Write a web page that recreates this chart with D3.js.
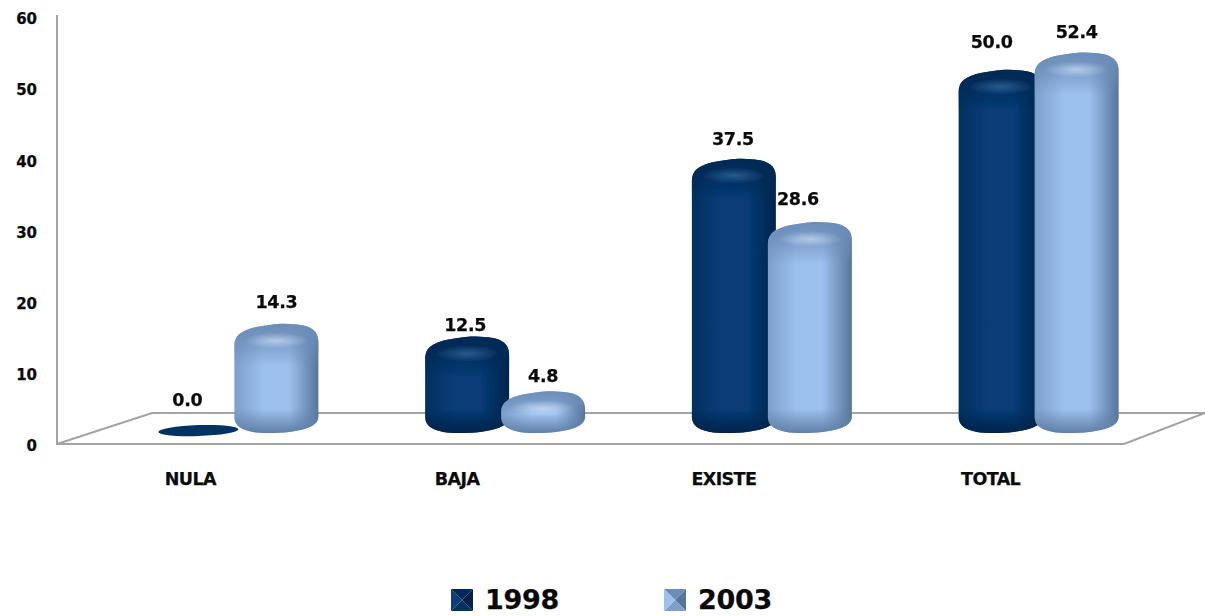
<!DOCTYPE html>
<html>
<head>
<meta charset="utf-8">
<script src="https://cdn.jsdelivr.net/npm/d3@7"></script>
<style>
  html, body { margin: 0; background: #fff; }
  text { font-family: "DejaVu Sans", sans-serif; font-weight: bold; fill: #0a0a0a; stroke: #0a0a0a; stroke-width: 0.25px; }
</style>
</head>
<body>
<div id="graphic"></div>
<script>
var categories = ["NULA", "BAJA", "EXISTE", "TOTAL"];
var seriesNames = ["1998", "2003"];
var values1998 = [0.0, 12.5, 37.5, 50.0];
var values2003 = [14.3, 4.8, 28.6, 52.4];
var yTicks = [0, 10, 20, 30, 40, 50, 60];

var width = 1205;
var height = 616;
var barBottom = 433;
var barWidth = 84;
var topOffset = 20.5;

// hand placed labels in the original, offset from the top middle of each bar
var labelNudge = {
  "1998": [[-13, -26], [-2, -12], [-1, -20], [-9, -28]],
  "2003": [[0, -22], [0, -16], [-12, -23], [0, -21]]
};

var colors = {
  "1998": { edgeL: "#06305f", mid: "#073c78", edgeR: "#02244a", cap: "#032a55", glow: "#3f78b0", base: "#02234a" },
  "2003": { edgeL: "#7d9fcb", mid: "#9cc1ef", edgeR: "#567599", cap: "#6c8db8", glow: "#dcebfb", base: "#5f7fa6" }
};

var seriesValues = { "1998": values1998, "2003": values2003 };

var svg = d3.select("#graphic").append("svg")
  .attr("width", width)
  .attr("height", height)
  .style("display", "block");

var xScale = d3.scaleBand().domain(categories).range([105, 1172]);
var xInner = d3.scaleBand().domain(seriesNames).range([-80, 80]);
var yScale = d3.scaleLinear().domain([0, 60]).range([446, 19]);

var defs = svg.append("defs");
seriesNames.forEach(function(name) {
  var c = colors[name];
  var body = defs.append("linearGradient").attr("id", "body" + name);
  body.append("stop").attr("offset", "0%").attr("stop-color", c.edgeL);
  body.append("stop").attr("offset", "35%").attr("stop-color", c.mid);
  body.append("stop").attr("offset", "65%").attr("stop-color", c.mid);
  body.append("stop").attr("offset", "100%").attr("stop-color", c.edgeR);

  var cap = defs.append("linearGradient").attr("id", "cap" + name).attr("x2", 0).attr("y2", 1);
  cap.append("stop").attr("offset", "0%").attr("stop-color", c.cap);
  cap.append("stop").attr("offset", "35%").attr("stop-color", c.cap).attr("stop-opacity", 0.8);
  cap.append("stop").attr("offset", "100%").attr("stop-color", c.cap).attr("stop-opacity", 0);

  var base = defs.append("linearGradient").attr("id", "base" + name).attr("x2", 0).attr("y2", 1);
  base.append("stop").attr("offset", "0%").attr("stop-color", c.base).attr("stop-opacity", 0);
  base.append("stop").attr("offset", "100%").attr("stop-color", c.base);

  var glow = defs.append("radialGradient").attr("id", "glow" + name);
  glow.append("stop").attr("offset", "0%").attr("stop-color", c.glow).attr("stop-opacity", 0.6);
  glow.append("stop").attr("offset", "100%").attr("stop-color", c.glow).attr("stop-opacity", 0);
});

defs.append("filter").attr("id", "soft")
  .append("feGaussianBlur").attr("stdDeviation", 0.5);

// floor and wall lines
var floor = [[57, 15], [57, 444], [1124, 444], [1205, 413], [152, 413], [57, 444]];
svg.append("path")
  .attr("d", d3.line()(floor))
  .attr("fill", "none")
  .attr("stroke", "#a3a3a3")
  .attr("stroke-width", 2);

var yAxis = d3.axisLeft(yScale).tickValues(yTicks).tickSize(0).tickPadding(20).tickFormat(d3.format("d"));
var yG = svg.append("g").attr("transform", "translate(57,0)").call(yAxis);
yG.select(".domain").remove();
yG.selectAll("text").attr("font-size", 15);

svg.append("g").selectAll("text").data(categories).join("text")
  .attr("x", function(d) { return xScale(d) + xScale.bandwidth() / 2 - 48; })
  .attr("y", 485)
  .attr("text-anchor", "middle")
  .attr("font-size", 17.5)
  .attr("letter-spacing", -0.6)
  .text(function(d) { return d; });

function topEdge(x0, w, t, b) {
  var x1 = x0 + w;
  var sL = Math.min(22, (b - t) / 2);
  var sR = Math.min(19, (b - t) / 2 - 2);
  return "M" + x0 + "," + (t + sL) +
    "C" + x0 + "," + (t + 8) + " " + (x0 + 0.15 * w) + "," + (t + 3) + " " + (x0 + 0.55 * w) + "," + t +
    "C" + (x0 + 0.85 * w) + "," + t + " " + x1 + "," + (t + 3) + " " + x1 + "," + (t + sR);
}

function bottomEdge(x0, w, b) {
  var x1 = x0 + w;
  return "C" + x1 + "," + (b - 6) + " " + (x0 + 0.78 * w) + "," + b + " " + (x0 + 0.4 * w) + "," + b +
    "C" + (x0 + 0.12 * w) + "," + b + " " + x0 + "," + (b - 6) + " " + x0 + "," + (b - 16);
}

function barPath(x0, w, t, b) {
  return topEdge(x0, w, t, b) + "L" + (x0 + w) + "," + (b - 16) + bottomEdge(x0, w, b) + "Z";
}

function capPath(x0, w, t, b) {
  var h = Math.min(42, (b - t) * 0.55);
  return topEdge(x0, w, t, b) + "L" + (x0 + w) + "," + (t + h) + "L" + x0 + "," + (t + h) + "Z";
}

function basePath(x0, w, t, b) {
  var h = Math.min(24, (b - t) * 0.45);
  return "M" + x0 + "," + (b - h) + "L" + (x0 + w) + "," + (b - h) + "L" + (x0 + w) + "," + (b - 16) +
    bottomEdge(x0, w, b) + "Z";
}

function barLeft(name, cat) {
  return xScale(cat) + xScale.bandwidth() / 2 + xInner(name) + (name === "1998" ? 0 : -4);
}

seriesNames.forEach(function(name) {
  var g = svg.append("g").attr("filter", "url(#soft)");
  categories.forEach(function(cat, i) {
    var v = seriesValues[name][i];
    var x0 = barLeft(name, cat);
    var t = yScale(v) - topOffset;
    if (v === 0) {
      g.append("ellipse")
        .attr("cx", x0 + barWidth / 2 - 2)
        .attr("cy", t + 5)
        .attr("rx", barWidth / 2 - 2)
        .attr("ry", 5.5)
        .attr("transform", "rotate(-2 " + (x0 + barWidth / 2) + " " + (t + 5) + ")")
        .attr("fill", "#033162");
      return;
    }
    g.append("path").attr("d", barPath(x0, barWidth, t, barBottom)).attr("fill", "url(#body" + name + ")");
    g.append("path").attr("d", basePath(x0, barWidth, t, barBottom)).attr("fill", "url(#base" + name + ")");
    g.append("path").attr("d", capPath(x0, barWidth, t, barBottom)).attr("fill", "url(#cap" + name + ")");
    g.append("ellipse")
      .attr("cx", x0 + barWidth * 0.5)
      .attr("cy", t + 17)
      .attr("rx", 32)
      .attr("ry", 8)
      .attr("fill", "url(#glow" + name + ")");
  });
});

// data labels go on top of every bar
seriesNames.forEach(function(name) {
  categories.forEach(function(cat, i) {
    var v = seriesValues[name][i];
    var nudge = labelNudge[name][i];
    svg.append("text")
      .attr("x", barLeft(name, cat) + barWidth / 2 + nudge[0])
      .attr("y", yScale(v) - topOffset + nudge[1])
      .attr("dy", "0.36em")
      .attr("text-anchor", "middle")
      .attr("font-size", 17.5)
      .attr("letter-spacing", -0.3)
      .text(d3.format(".1f")(v));
  });
});

// legend
var legendX = d3.scaleOrdinal().domain(seriesNames).range([451, 664]);
var swatch = 22;
seriesNames.forEach(function(name) {
  var c = colors[name];
  var lx = legendX(name);
  var ly = 589;
  var cx = lx + swatch / 2;
  var cy = ly + swatch / 2;
  var corners = [[lx, ly], [lx + swatch, ly], [lx + swatch, ly + swatch], [lx, ly + swatch]];
  var shades = [c.cap, c.edgeR, c.edgeL, c.mid];
  var sw = svg.append("g").attr("filter", "url(#soft)");
  corners.forEach(function(p, i) {
    sw.append("path")
      .attr("d", d3.line()([p, corners[(i + 1) % 4], [cx, cy]]) + "Z")
      .attr("fill", shades[i]);
  });
  svg.append("text")
    .attr("x", lx + swatch + 12)
    .attr("y", 609)
    .attr("font-size", 27)
    .attr("letter-spacing", -0.3)
    .text(name);
});
</script>
</body>
</html>
